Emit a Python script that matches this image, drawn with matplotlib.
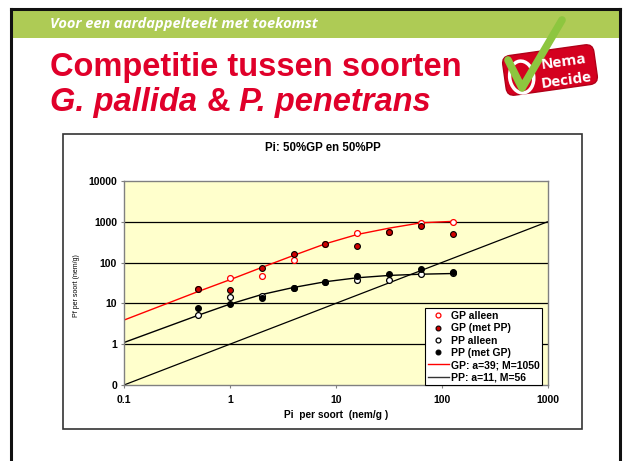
import numpy as np
import matplotlib
matplotlib.use("Agg")
import matplotlib.pyplot as plt
from matplotlib.patches import Rectangle, FancyBboxPatch, Ellipse
from matplotlib.transforms import Affine2D
from matplotlib.lines import Line2D

# data
pi = [0.5, 1, 2, 4, 8, 16, 32, 64, 128]
gp_alleen = [22, 43, 47, 114, 290, 525, 570, 950, 1010]
gp_met_pp = [22.5, 21.5, 75, 163, 293, 256, 572, 770, 490]
pp_alleen = [5.1, 14.5, 15.5, 24.5, 33, 37, 38, 53, 57]
pp_met_gp = [7.8, 9.8, 13.5, 23.5, 33, 48, 52, 68, 58]

fit_x = [0.1, 0.5, 1, 2, 4, 8, 16, 32, 64, 128]
gp_fit = [3.9, 19.5, 38, 76, 150, 290, 490, 700, 945, 1025]
pp_fit = [1.1, 5.1, 9.6, 16.5, 24.6, 34, 42.5, 48.5, 52, 54]
diag = [0.1, 1000]

xticks = [0.1, 1, 10, 100, 1000]
xlabels = ['0.1', '1', '10', '100', '1000']
yticks = [0.1, 1, 10, 100, 1000, 10000]
ylabels = ['0', '1', '10', '100', '1000', '10000']

W, H = 623, 461
fig = plt.figure(figsize=(W / 100, H / 100), dpi=100)
fig.patch.set_facecolor('white')

# slide background drawn in pixel coordinates
bg = fig.add_axes([0, 0, 1, 1])
bg.set_xlim(0, W)
bg.set_ylim(H, 0)
bg.axis('off')

red = '#E0002A'
bg.add_patch(Rectangle((11, 9), 609, 29, facecolor='#AECB55', edgecolor='none'))
bg.plot([11, 11], [9, H], color='#111111', lw=2.2)
bg.plot([620, 620], [9, H], color='#111111', lw=2.2)
bg.plot([11, 620], [9, 9], color='#111111', lw=2.2)

bg.text(50, 24, 'Voor een aardappelteelt met toekomst', color='white',
        fontsize=10.5, fontstyle='italic', fontweight='bold', family='Open Sans',
        va='center', ha='left')
bg.text(50, 76, 'Competitie tussen soorten', color=red, fontsize=23.5,
        fontweight='bold', family='Liberation Sans', va='baseline', ha='left')

# second title line: italic names, upright ampersand
fig.canvas.draw()
r = fig.canvas.get_renderer()
xpos = 50
for s, st in [('G. pallida ', 'italic'), ('&', 'normal'), (' P. penetrans', 'italic')]:
    t = bg.text(xpos, 111, s, color=red, fontsize=23.5, fontweight='bold',
                fontstyle=st, family='Liberation Sans', va='baseline', ha='left')
    bb = t.get_window_extent(r)
    xpos += bb.width

# logo
tr = Affine2D().rotate_deg_around(550, 70, -8) + bg.transData
badge = FancyBboxPatch((504, 50), 92, 40, boxstyle='round,pad=0,rounding_size=8',
                       facecolor='#D4001F', edgecolor='#B00018', lw=1, transform=tr)
bg.add_patch(badge)
bg.add_patch(Ellipse((521, 73), 24, 32, facecolor='none', edgecolor='white', lw=2.5,
                     transform=tr))
bg.text(564, 62, 'Nema', color='white', fontsize=11, fontweight='bold',
        family='Open Sans', ha='center', va='center', rotation=8)
bg.text(566, 80, 'Decide', color='white', fontsize=11, fontweight='bold',
        family='Open Sans', ha='center', va='center', rotation=8)
bg.plot([508, 522, 562], [60, 88, 20], color='#8DC63F', lw=5.5,
        solid_capstyle='round', solid_joinstyle='round')

# chart box
bg.add_patch(Rectangle((63, 134), 519, 295, facecolor='white', edgecolor='#333333', lw=1.2))
bg.text(323, 148, 'Pi: 50%GP en 50%PP', fontsize=8.3, fontweight='bold',
        family='Liberation Sans', ha='center', va='center')
bg.text(336, 415, 'Pi  per soort  (nem/g )', fontsize=7.3, fontweight='bold',
        family='Liberation Sans', ha='center', va='center')
bg.text(76, 286, 'Pf per soort (nem/g)', fontsize=5, family='Liberation Sans',
        ha='center', va='center', rotation=90)

# plot area
x0, x1, y0, y1 = 124, 547.5, 181, 385
ax = fig.add_axes([x0 / W, 1 - y1 / H, (x1 - x0) / W, (y1 - y0) / H])
ax.set_facecolor('#FFFFCC')
ax.set_xscale('log')
ax.set_yscale('log')
ax.set_xlim(0.1, 1000)
ax.set_ylim(0.1, 10000)
ax.set_xticks(xticks)
ax.set_xticklabels(xlabels)
ax.set_yticks(yticks)
ax.set_yticklabels(ylabels)
ax.minorticks_off()
ax.tick_params(length=2, color='#808080', labelsize=7.5)
ax.tick_params(axis='x', pad=5)
ax.tick_params(axis='y', pad=3)
for lab in ax.get_xticklabels() + ax.get_yticklabels():
    lab.set_fontweight('bold')
    lab.set_family('Liberation Sans')
for sp in ax.spines.values():
    sp.set_color('#808080')
    sp.set_linewidth(1)
for v in [1, 10, 100, 1000]:
    ax.axhline(v, color='black', lw=0.9, zorder=1)

ms = 4.2
ax.plot(diag, diag, color='black', lw=0.9, zorder=2)
ax.plot(fit_x, gp_fit, color='#FF0000', lw=1, zorder=2)
ax.plot(fit_x, pp_fit, color='black', lw=1, zorder=2)
ax.plot(pi, gp_alleen, 'o', ms=ms, mfc='white', mec='#FF0000', mew=0.9, zorder=3)
ax.plot(pi, gp_met_pp, 'o', ms=ms, mfc='#D00000', mec='black', mew=0.8, zorder=4)
ax.plot(pi, pp_alleen, 'o', ms=ms, mfc='white', mec='black', mew=0.9, zorder=3)
ax.plot(pi, pp_met_gp, 'o', ms=ms, mfc='black', mec='black', mew=0.8, zorder=4)

handles = [
    Line2D([], [], ls='none', marker='o', ms=3.5, mfc='white', mec='#FF0000', mew=0.9),
    Line2D([], [], ls='none', marker='o', ms=3.5, mfc='#D00000', mec='black', mew=0.8),
    Line2D([], [], ls='none', marker='o', ms=3.5, mfc='white', mec='black', mew=0.9),
    Line2D([], [], ls='none', marker='o', ms=3.5, mfc='black', mec='black', mew=0.8),
    Line2D([], [], color='#FF0000', lw=1),
    Line2D([], [], color='#333333', lw=1),
]
labels = ['GP alleen', 'GP (met PP)', 'PP alleen', 'PP (met GP)',
          'GP: a=39; M=1050', 'PP: a=11, M=56']
leg = ax.legend(handles, labels, loc='lower right', bbox_to_anchor=(0.987, 0.0),
                borderaxespad=0, fancybox=False, edgecolor='black', framealpha=1,
                prop={'family': 'Liberation Sans', 'weight': 'bold', 'size': 7.5},
                handlelength=2.0, handletextpad=0.2, labelspacing=0.22,
                borderpad=0.25)
leg.get_frame().set_linewidth(0.8)
leg.set_zorder(5)

fig.savefig('out.png', dpi=100)
